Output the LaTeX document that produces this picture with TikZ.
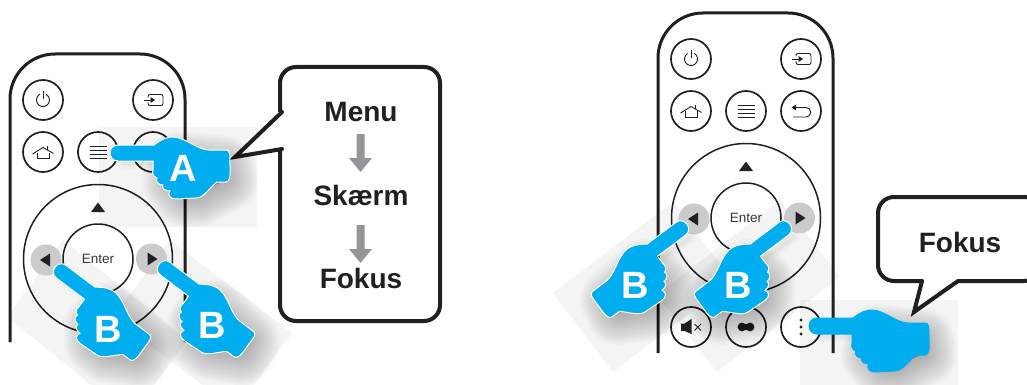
\documentclass[tikz,border=0pt]{standalone}
\usepackage{fontspec}
\setmainfont{Liberation Sans}
\definecolor{ink}{HTML}{231F20}
\definecolor{handblue}{HTML}{00AEEF}
\definecolor{padgray}{HTML}{CBCBCC}
\definecolor{arrowgray}{HTML}{939598}
\tikzset{
  btn/.style={circle,draw=ink,line width=1.7pt,minimum size=40pt,inner sep=0pt},
  ring/.style={circle,draw=ink,line width=1.5pt,inner sep=0pt},
  padkey/.style={circle,fill=padgray,minimum size=31pt,inner sep=0pt},
  icon/.style={draw=ink,line width=.9pt,line join=miter},
  solidicon/.style={fill=ink},
  shell/.style={draw=ink,line width=3pt},
  bubble/.style={draw=ink,fill=white,line width=4pt,rounded corners=16pt,line join=round},
  bubtail/.style={draw=ink,fill=white,line width=4pt,line join=miter},
  bubtext/.style={font=\bfseries\fontsize{28}{30}\selectfont,text=ink,inner sep=0pt},
  keytext/.style={font=\fontsize{13.5}{15}\selectfont,text=ink!90,inner sep=0pt},
  handtext/.style={font=\bfseries\fontsize{38}{40}\selectfont,text=white,inner sep=0pt},
  patch/.style={fill=black,fill opacity=0.045,draw=none},
  downarrow/.style={fill=arrowgray,draw=none}
}
\newcommand{\handshape}{(8,-8) -- (44,-8) .. controls (52,-14) and (58,-16.5) .. (64,-16)
  .. controls (76,-15) and (88,-3) .. (99,-3) -- (116,-3) .. controls (120,-3) and (120,0) .. (120,14)
  .. controls (120.5,22) and (120,29) .. (116,29) -- (107,29) .. controls (100,34) and (94,45) .. (86,45)
  -- (66,46) .. controls (60,46) and (57,42) .. (60,38) .. controls (55,38) and (51,35) .. (53,32)
  .. controls (48,32) and (45,28) .. (47,25) .. controls (43,24) and (42,20) .. (43,17) -- (43,8)
  -- (8,8) .. controls (-2.5,8) and (-2.5,-8) .. (8,-8) -- cycle}
\newcommand{\palmshape}{(62,2) -- (106,6) -- (108,18) -- (96,24) -- (82,32) -- (68,32) -- (58,20) -- cycle}
% #1 = tip position, #2 = rotation, #3 = xscale, #4 = outline colour
\newcommand{\hand}[4]{%
  \begin{scope}[shift={(#1)},shift={(7,9)},rotate=#2,xscale=#3]
    \foreach \w in {66,63,...,3}
      \draw[black,fill=black,opacity=0.016,line width=\w pt,line join=round] \palmshape;
    \foreach \w in {12,9,6,3}
      \draw[black,opacity=0.015,line width=\w pt,line cap=round] (6,1) -- (50,1);
  \end{scope}
  \begin{scope}[shift={(#1)},rotate=#2,xscale=#3]
    \draw[#4,fill=handblue,line width=1pt,line join=round] \handshape;
  \end{scope}}
\newcommand{\icoPower}{\draw[icon] (120:6.5pt) arc[start angle=120,end angle=420,radius=6.5pt];
  \draw[icon] (0,-9) -- (0,-1);}
\newcommand{\icoInput}{\draw[icon,rounded corners=2pt] (-5,-2.5) -- (-5,-5.5) -- (10,-5.5) -- (10,5.5) -- (-5,5.5) -- (-5,2.5);
  \draw[icon] (-9.5,0) -- (-1,0);
  \fill[solidicon] (-2.5,-3) -- (2,0) -- (-2.5,3) -- cycle;}
\newcommand{\icoHome}{\draw[icon] (-10.5,2) -- (0,-4.5) -- (10.5,1.5);
  \draw[icon] (-6,0.5) -- (-6,6) -- (6,6) -- (6,0.5);
  \draw[icon] (4.5,-6) -- (4.5,-2);}
\newcommand{\icoMenu}{\foreach \q in {-6,-2,2,6} \draw[ink,line width=.8pt] (-8.5,\q) -- (8.5,\q);}
\newcommand{\icoBack}{\draw[icon] (-8,6) -- (5,6) arc[start angle=-90,end angle=90,radius=4.75pt] -- (-6,-3.5);
  \fill[solidicon] (-5,-6.5) -- (-9.5,-3.5) -- (-5,-0.5) -- cycle;}
\newcommand{\icoMute}{\fill[solidicon] (-10,-3.5) -- (-6.5,-3.5) -- (0.5,-8) -- (0.5,7) -- (-6.5,4) -- (-10,4) -- cycle;
  \draw[ink,line width=.8pt] (3.5,-3) -- (10,3.5) (10,-3) -- (3.5,3.5);}
\newcommand{\icoEco}{\fill[solidicon] (-4,0) circle (4.4pt) (4,0) circle (4.4pt);
  \fill[solidicon] (-4,-3) rectangle (4,3);}
\newcommand{\icoDots}{\fill[solidicon] (0,-7) circle (1.7pt) (0,0) circle (1.7pt) (0,7) circle (1.7pt);}
% #1 name prefix, #2 x, #3 y, #4 icon
\newcommand{\rbtn}[4]{\node[btn] (#1) at (#2,#3) {};
  \begin{scope}[shift={(#2,#3)}]#4\end{scope}}
% #1 prefix, #2 outline bottom
\newcommand{\remote}[2]{%
  \draw[shell] (10,#2) -- (10,99) arc[start angle=180,end angle=90,radius=45pt] -- (140,54)
     arc[start angle=90,end angle=0,radius=45pt] -- (185,#2);
  \rbtn{#1power}{43}{100}{\icoPower}
  \rbtn{#1input}{153}{100}{\icoInput}
  \rbtn{#1home}{43}{152}{\icoHome}
  \rbtn{#1menu}{98}{152}{\icoMenu}
  \rbtn{#1back}{153}{152}{\icoBack}
  \node[ring,minimum size=149pt] (#1dpad) at (98,259) {};
  \node[ring,minimum size=70pt] (#1enter) at (98,259) {};
  \node[keytext] (#1entertext) at (98,259) {Enter};
  \node[padkey] (#1left) at (46,260) {};
  \node[padkey] (#1right) at (151.5,259) {};
  \fill[ink] (91,212) -- (98,202.5) -- (105,212) -- cycle;
  \fill[ink] (50,253.5) -- (40,260) -- (50,266.5) -- cycle;
  \fill[ink] (147.5,252.5) -- (157.5,259) -- (147.5,265.5) -- cycle;
}
\begin{document}
\begin{tikzpicture}[x=1pt,y=-1pt]
\useasboundingbox (0,0) rectangle (1027,385);
\clip (0,0) rectangle (1027,385);
% pale patches behind the hands
\fill[patch] (99,127) rectangle (257,227);
\fill[patch] (63,240) -- (187,340) -- (131,417) -- (7,317) -- cycle;
\fill[patch] (170,240) -- (292,333) -- (235,410) -- (113,317) -- cycle;
\fill[patch] (673,202) -- (733,281) -- (613,372) -- (553,293) -- cycle;
\fill[patch] (780,200) -- (840,277) -- (717,372) -- (657,295) -- cycle;
\fill[patch] (800,300) rectangle (958,385);
% remotes
\remote{L}{342}
\begin{scope}[shift={(648,-41)}]
  \remote{R}{394}
  \rbtn{Rmute}{43}{368}{\icoMute}
  \rbtn{Reco}{98}{368}{\icoEco}
  \rbtn{Rdots}{153}{368}{\icoDots}
\end{scope}
% callout with the menu path
\draw[bubble] (280,112) -- (280,67) -- (440,67) -- (440,321) -- (280,321) -- (280,149);
\fill[white] (280,112) -- (235,157) -- (280,149) -- cycle;
\draw[bubtail,fill=none,line cap=round] (282,112) -- (235,157) -- (282,149);
\node[bubtext] (menu) at (361,112) {Menu};
\node[bubtext] (skaerm) at (361,195) {Skærm};
\node[bubtext] (fokusA) at (361,278) {Fokus};
\fill[downarrow] (356.5,134) -- (364.5,134) -- (364.5,158) -- (372,158) -- (360.5,172) -- (349,158) -- (356.5,158) -- cycle;
\fill[downarrow] (356.5,225) -- (364.5,225) -- (364.5,249) -- (372,249) -- (360.5,263) -- (349,249) -- (356.5,249) -- cycle;
% Fokus callout
\draw[bubble] (922,281) -- (878,281) -- (878,197) -- (1040,197) -- (1040,281) -- (958,281);
\fill[white] (923,278) -- (914,312) -- (958,278) -- cycle;
\draw[bubtail,fill=none,line cap=round] (922,281) -- (914,312) -- (958,281);
\node[bubtext] (fokusB) at (960,242) {Fokus};
% hands
\hand{110,153}{0}{1}{white}
\node[handtext] (letA) at (183.5,168) {A};
\hand{159,264}{-37}{1}{white}
\node[handtext] (letB2) at (212.5,325) {B};
\hand{55,267}{-37}{1}{white}
\node[handtext] (letB1) at (108.5,329) {B};
\hand{687,224}{37}{-1}{white}
\node[handtext] (letB3) at (635,285) {B};
\hand{790,224}{37}{-1}{white}
\node[handtext] (letB4) at (738,285) {B};
\hand{809,326}{0}{1}{handblue}
\end{tikzpicture}
\end{document}
